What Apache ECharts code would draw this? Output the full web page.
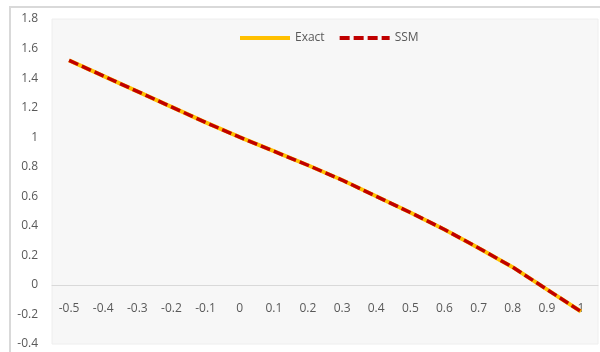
<!DOCTYPE html>
<html>
<head>
<meta charset="utf-8">
<style>
  html, body { margin: 0; padding: 0; background: #ffffff; }
  #chart { width: 600px; height: 352px; }
</style>
<script src="https://cdn.jsdelivr.net/npm/echarts@6/dist/echarts.min.js"></script>
</head>
<body>
<div id="chart"></div>
<script>
// x positions (category labels)
var xLabels = ['-0.5', '-0.4', '-0.3', '-0.2', '-0.1', '0', '0.1', '0.2', '0.3', '0.4', '0.5', '0.6', '0.7', '0.8', '0.9', '1'];

// exact solution
var exactValues = [1.52, 1.415, 1.31, 1.205, 1.10, 1.00, 0.905, 0.81, 0.71, 0.60, 0.49, 0.375, 0.25, 0.12, -0.03, -0.18];

// SSM approximation
var ssmValues = [1.52, 1.415, 1.31, 1.205, 1.10, 1.00, 0.905, 0.81, 0.71, 0.60, 0.49, 0.375, 0.25, 0.12, -0.03, -0.18];

// value axis range
var yMin = -0.4, yMax = 1.8, yStep = 0.2;

var textColor = '#595959';
var fontFamily = '"Open Sans", "Noto Sans", sans-serif';

// plot box
var gridTop = 19, gridBottom = 8, chartHeight = 352;
var plotHeight = chartHeight - gridTop - gridBottom;
// shift the category axis up so it sits on y = 0
var zeroOffset = -((0 - yMin) / (yMax - yMin)) * plotHeight;

var chart = echarts.init(document.getElementById('chart'), null, { renderer: 'canvas' });

chart.setOption({
  backgroundColor: '#ffffff',
  animation: false,
  graphic: [{
    type: 'rect',
    shape: { x: 10, y: 7, width: 700, height: 500 },
    style: { fill: 'none', stroke: '#d9d9d9', lineWidth: 2 },
    silent: true,
    z: -10
  }],
  grid: {
    left: 52, top: gridTop, right: 2, bottom: gridBottom,
    outerBoundsMode: 'none',
    containLabel: false,
    show: true,
    backgroundColor: '#f7f7f7',
    borderColor: '#eeeeee',
    borderWidth: 1
  },
  legend: {
    left: 233, top: 27,
    itemWidth: 50, itemHeight: 10, itemGap: 13,
    itemStyle: { opacity: 0 },
    textStyle: { color: textColor, fontSize: 12, fontFamily: fontFamily },
    data: [
      { name: 'Exact', lineStyle: { width: 4 } },
      { name: 'SSM', lineStyle: { width: 4 } }
    ]
  },
  xAxis: {
    type: 'category',
    data: xLabels,
    boundaryGap: true,
    offset: zeroOffset,
    axisLine: { onZero: false, lineStyle: { color: '#d9d9d9', width: 1 } },
    axisTick: { show: false },
    axisLabel: { color: textColor, fontSize: 12, fontFamily: fontFamily, margin: 18, interval: 0 },
    splitLine: { show: false }
  },
  yAxis: {
    type: 'value',
    min: yMin, max: yMax, interval: yStep,
    axisLine: { show: false },
    axisTick: { show: false },
    splitLine: { show: false },
    axisLabel: {
      color: textColor, fontSize: 12, fontFamily: fontFamily, margin: 14,
      formatter: function (v) { return String(Number(v.toFixed(1))); }
    }
  },
  series: [
    {
      name: 'Exact',
      type: 'line',
      data: exactValues,
      symbol: 'none',
      lineStyle: { color: '#ffc000', width: 4 },
      itemStyle: { color: '#ffc000' },
      z: 2
    },
    {
      name: 'SSM',
      type: 'line',
      data: ssmValues,
      symbol: 'none',
      lineStyle: { color: '#c00000', width: 3.5, type: [10, 4] },
      itemStyle: { color: '#c00000' },
      z: 3
    }
  ]
});
</script>
</body>
</html>
